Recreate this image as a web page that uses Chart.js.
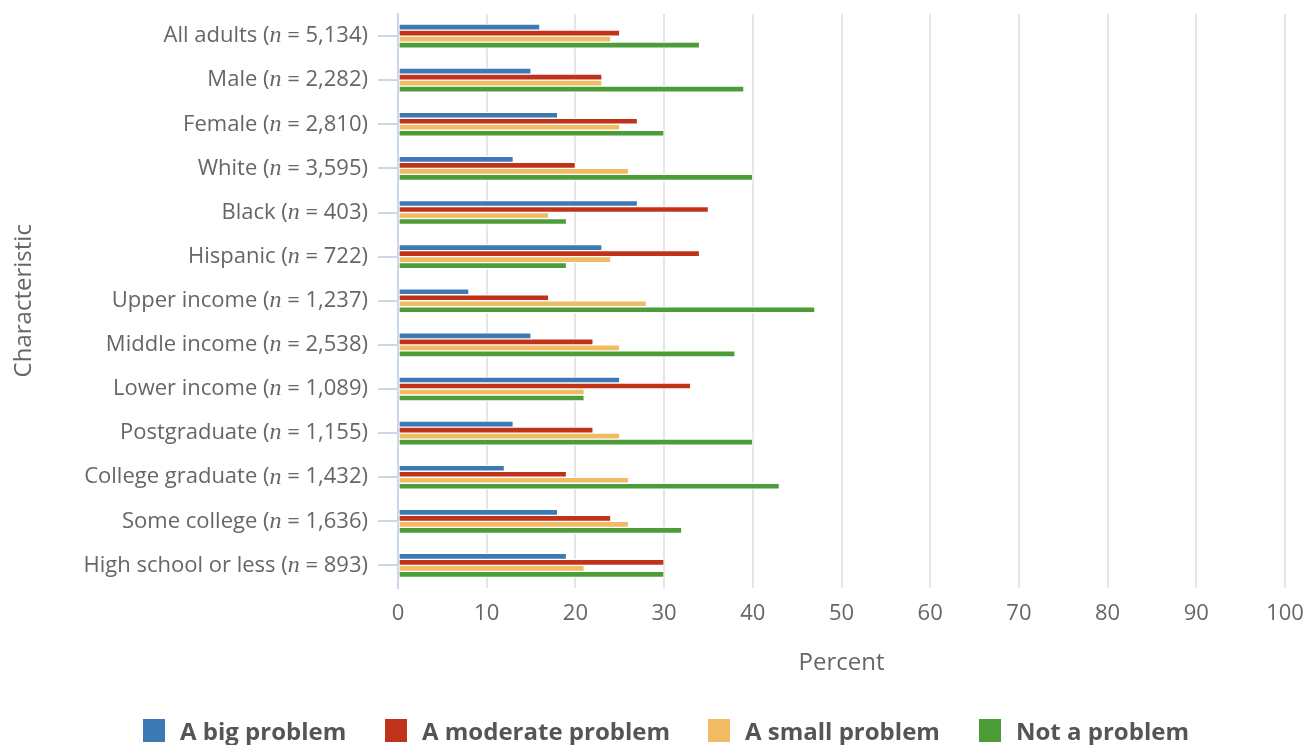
<!DOCTYPE html>
<html>
<head>
<meta charset="utf-8">
<script src="https://cdn.jsdelivr.net/npm/chart.js@4"></script>
<style>
  body { margin: 0; background: #fff; overflow: hidden; }
  #wrap { position: relative; width: 1313px; height: 745px; }
  #legend { position: absolute; left: 0; top: 0; width: 1313px; height: 745px; pointer-events: none; }
  .item { position: absolute; top: 719px; height: 23px; display: flex; align-items: center;
          font: bold 24px "Open Sans"; color: #555; white-space: nowrap; }
  .box { width: 22px; height: 23px; margin-right: 15px; flex: none; }
</style>
</head>
<body>
<div id="wrap">
  <canvas id="bar-chart" width="1313" height="745"></canvas>
  <div id="legend"></div>
</div>
<script>
//********************
//DATA
//********************
const groups = ["All adults", "Male", "Female", "White", "Black", "Hispanic", "Upper income",
  "Middle income", "Lower income", "Postgraduate", "College graduate", "Some college", "High school or less"];
const sampleSizes = ["5,134", "2,282", "2,810", "3,595", "403", "722", "1,237",
  "2,538", "1,089", "1,155", "1,432", "1,636", "893"];

const bigProblem      = [16, 15, 18, 13, 27, 23, 8, 15, 25, 13, 12, 18, 19];
const moderateProblem = [25, 23, 27, 20, 35, 34, 17, 22, 33, 22, 19, 24, 30];
const smallProblem    = [24, 23, 25, 26, 17, 24, 28, 25, 21, 25, 26, 26, 21];
const notProblem      = [34, 39, 30, 40, 19, 19, 47, 38, 21, 40, 43, 32, 30];

const seriesNames = ["A big problem", "A moderate problem", "A small problem", "Not a problem"];
const seriesColors = ["#3d79b3", "#c0321a", "#f0bb62", "#4c9c38"];
const xTicks = [0, 10, 20, 30, 40, 50, 60, 70, 80, 90, 100];

const labels = groups.map((g, i) => g + " (n = " + sampleSizes[i] + ")");
const seriesData = [bigProblem, moderateProblem, smallProblem, notProblem];

// y labels with italic "n"
const richLabels = {
  id: 'richLabels',
  afterDraw(chart) {
    const c = chart.ctx;
    const y = chart.scales.y;
    c.save();
    c.fillStyle = "#666";
    c.textBaseline = "middle";
    groups.forEach((g, i) => {
      const py = y.getPixelForTick(i);
      const parts = [
        [g + " (", '22px "Open Sans"'],
        ["n", 'italic 24px "Liberation Serif"'],
        [" = " + sampleSizes[i] + ")", '22px "Open Sans"']
      ];
      let total = 0;
      parts.forEach(p => { c.font = p[1]; total += c.measureText(p[0]).width; });
      let x = 368 - total;
      parts.forEach(p => {
        c.font = p[1];
        c.fillText(p[0], x, py);
        x += c.measureText(p[0]).width;
      });
    });
    c.restore();
  }
};

var ctx = document.getElementById("bar-chart");
var barChart = new Chart(ctx, {
  type: 'bar',
  data: {
    labels: labels,
    datasets: seriesData.map((d, i) => ({
      label: seriesNames[i],
      data: d,
      backgroundColor: seriesColors[i],
      borderColor: "#ffffff",
      borderWidth: 1,
      borderSkipped: false,
      barThickness: 6,
      categoryPercentage: 0.6
    }))
  },
  options: {
    indexAxis: 'y',
    responsive: false,
    animation: false,
    layout: { padding: { top: 14, right: 28, bottom: 60, left: 0 } },
    plugins: {
      legend: { display: false },
      tooltip: { enabled: false }
    },
    scales: {
      x: {
        min: 0,
        max: 100,
        afterFit: (s) => { s.height = 97.5; s.paddingLeft = 0; s.paddingRight = 0; },
        afterBuildTicks: (s) => { s.ticks = xTicks.map(v => ({ value: v })); },
        grid: { color: "#e6e6e6", lineWidth: 2, drawTicks: false },
        border: { display: false },
        ticks: { color: "#666", font: { family: "Open Sans", size: 22 }, padding: 13 },
        title: { display: true, text: "Percent", color: "#666",
                 font: { family: "Open Sans", size: 24 }, padding: { top: 0, bottom: 7 } }
      },
      y: {
        afterFit: (s) => { s.width = 398; s.paddingTop = 0; s.paddingBottom = 0; },
        grid: { offset: false, drawOnChartArea: false, color: "#ccd6eb", lineWidth: 2, tickLength: 20 },
        border: { color: "#ccd6eb", width: 2 },
        ticks: { display: false },
        title: { display: true, text: "Characteristic", color: "#666",
                 font: { family: "Open Sans", size: 24 }, padding: { top: 10, bottom: 0 } }
      }
    }
  },
  plugins: [richLabels]
});

// legend
const legendLeft = [143, 385, 708, 979];
const legend = document.getElementById("legend");
seriesNames.forEach((name, i) => {
  const item = document.createElement("div");
  item.className = "item";
  item.style.left = legendLeft[i] + "px";
  item.innerHTML = '<span class="box" style="background:' + seriesColors[i] + '"></span>' + name;
  legend.appendChild(item);
});
</script>
</body>
</html>
